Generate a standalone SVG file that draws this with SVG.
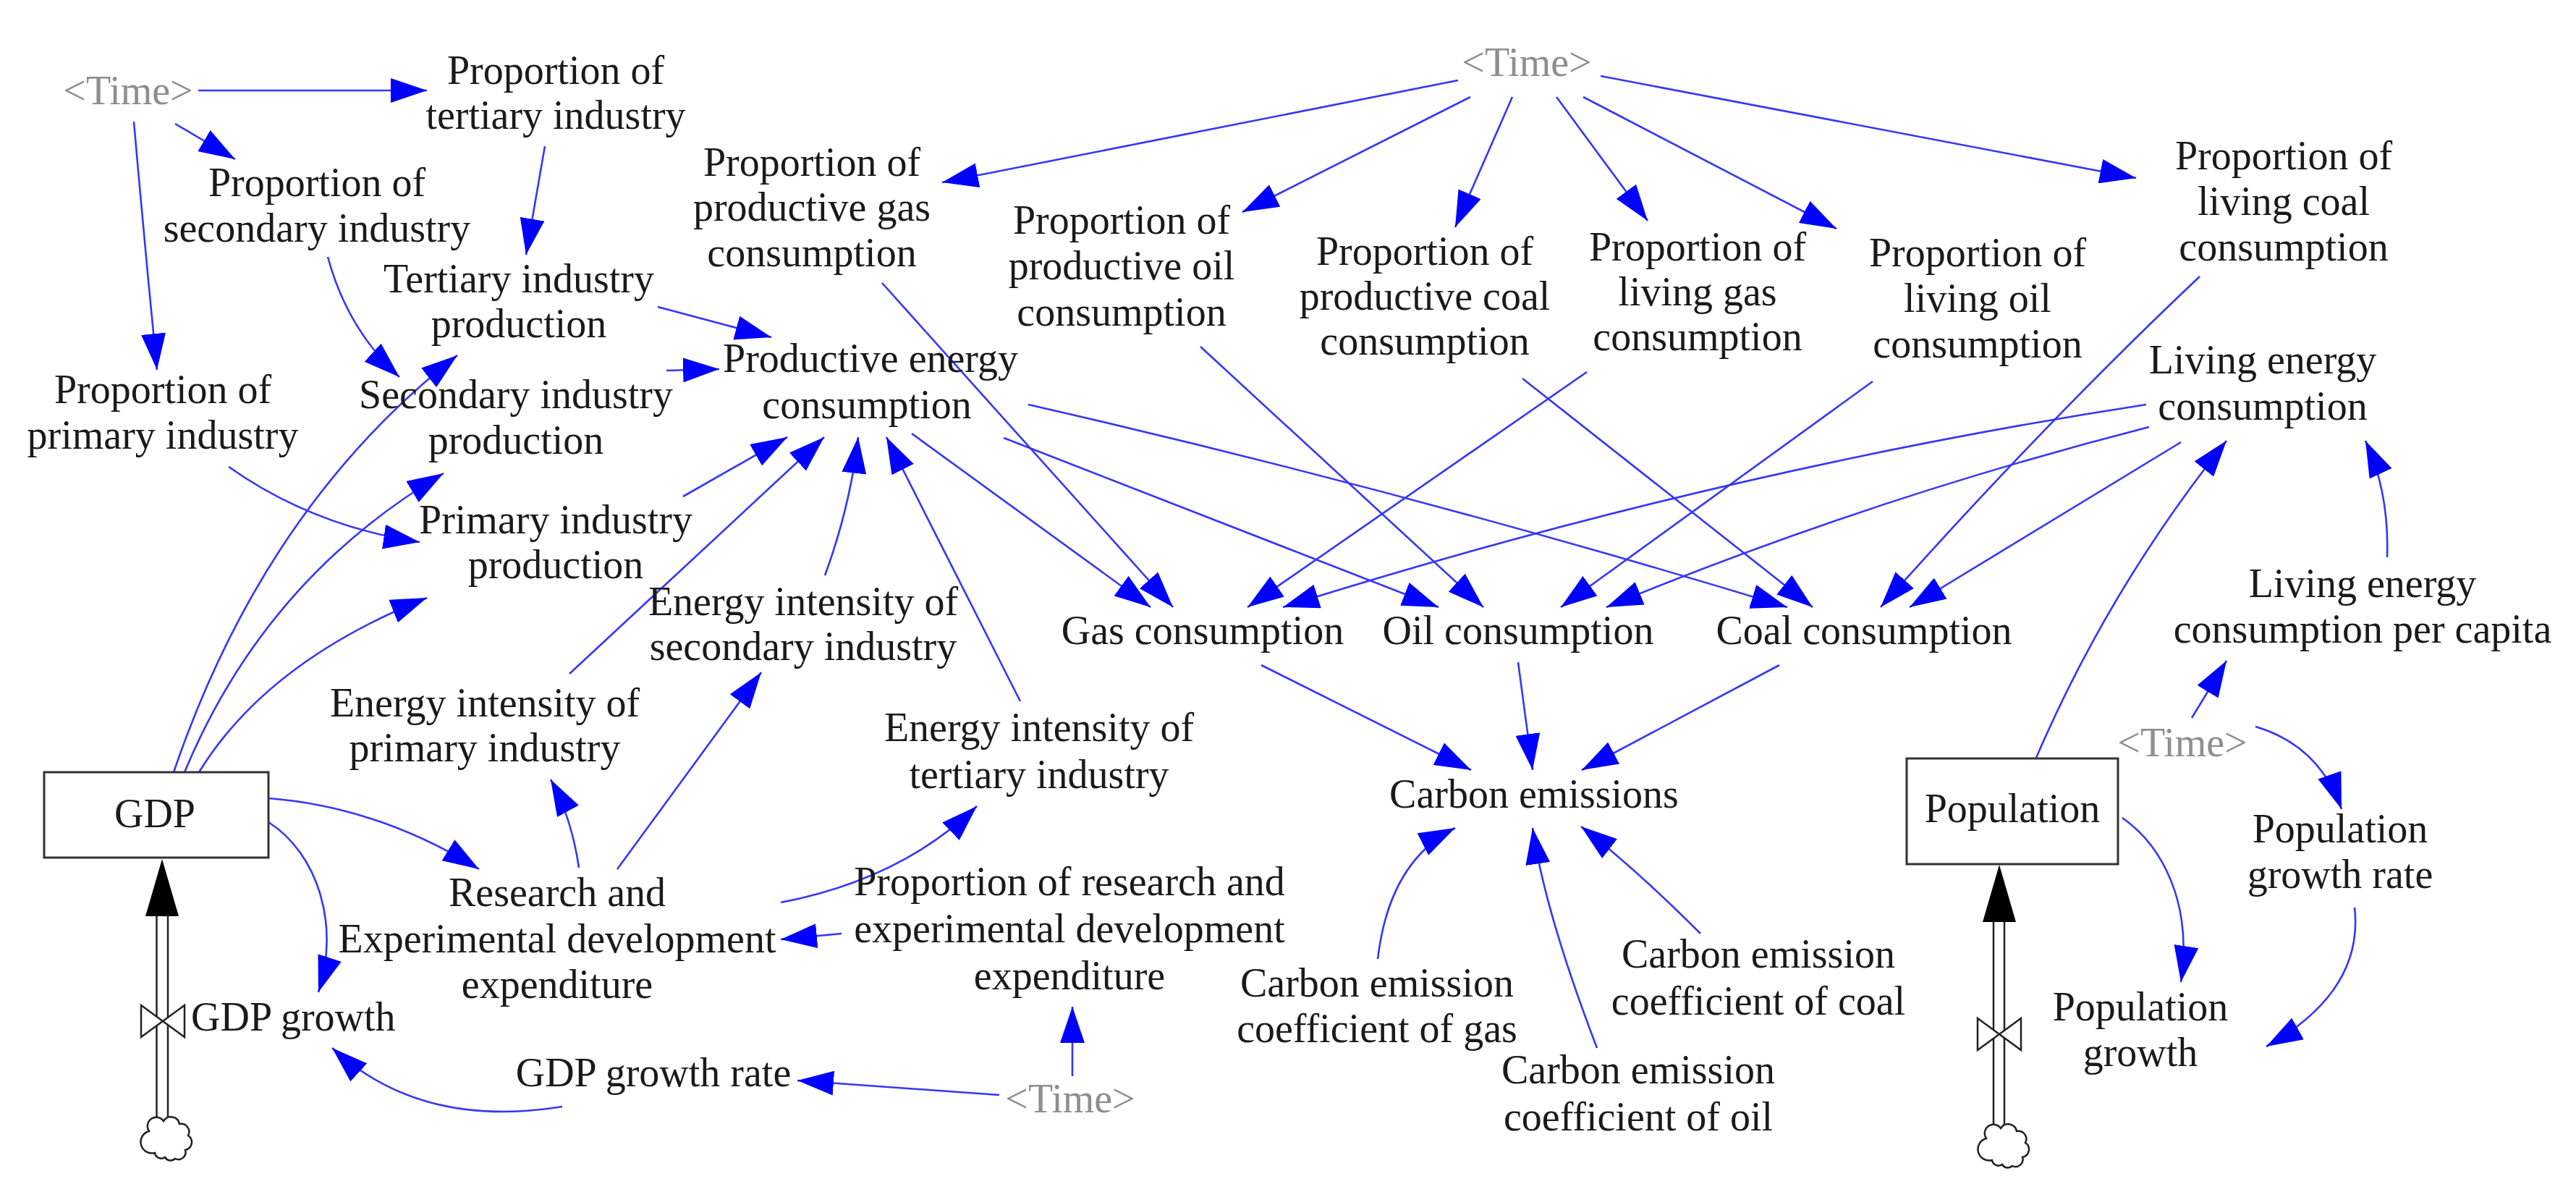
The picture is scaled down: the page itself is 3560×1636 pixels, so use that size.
<svg xmlns="http://www.w3.org/2000/svg" xmlns:xlink="http://www.w3.org/1999/xlink" width="3560" height="1636" viewBox="0 0 3560 1636">
<style>
.t{font-family:"Liberation Serif","Times New Roman",serif;font-size:56px;fill:#1a1a1a;text-anchor:middle}
.tl{text-anchor:start}
.time{fill:#8e8e8e}
.c{fill:none;stroke:#3535ff;stroke-width:2.6;marker-end:url(#ah)}
.box{fill:#ffffff;stroke:#333333;stroke-width:3}
.pipe{stroke:#222222;stroke-width:2.5;fill:none}
.valve{fill:#ffffff;stroke:#222222;stroke-width:2.5}
.cloud{fill:#ffffff;stroke:#222222;stroke-width:2.5}
</style>
<defs>
<marker id="ah" markerUnits="userSpaceOnUse" markerWidth="50" markerHeight="34" refX="50" refY="17" orient="auto">
<path d="M0,0 L50,17 L0,34 Z" fill="#0000ff"/>
</marker>
<path id="valveShape" d="M-30,-22 L0,0 L-30,22 Z M30,-22 L0,0 L30,22 Z"/>
<path id="cloudShape" d="M-25,-12 a12,12 0 0 1 20,-14 a12,12 0 0 1 22,4 a11,11 0 0 1 12,16 a11,11 0 0 1 -4,20 a10,10 0 0 1 -14,12 a9,9 0 0 1 -14,-2 a9,9 0 0 1 -14,-6 a11,11 0 0 1 -8,-30 z"/>
<path id="flowHead" d="M0,0 L23,79 L-23,79 Z"/>
</defs>
<rect width="3560" height="1636" fill="#ffffff"/>

<g id="connectors">
<path class="c" d="M274,125 L590,125"/>
<path class="c" d="M242,171 L325,220"/>
<path class="c" d="M185,168 Q200,340 217,511"/>
<path class="c" d="M753,202 L727,352"/>
<path class="c" d="M453,355 Q480,455 552,521"/>
<path class="c" d="M909,424 L1066,466"/>
<path class="c" d="M921,512 L994,510"/>
<path class="c" d="M316,645 Q432,727 580,749"/>
<path class="c" d="M240,1067 Q365,700 632,491"/>
<path class="c" d="M255,1067 Q366,800 613,654"/>
<path class="c" d="M275,1067 Q369,914 590,826"/>
<path class="c" d="M944,686 L1088,604"/>
<path class="c" d="M787,931 L1139,604"/>
<path class="c" d="M1140,795 Q1175,700 1186,604"/>
<path class="c" d="M1410,969 L1225,604"/>
<path class="c" d="M1260,599 L1590,839"/>
<path class="c" d="M1387,605 L1988,839"/>
<path class="c" d="M1421,559 Q1950,680 2470,839"/>
<path class="c" d="M1219,391 L1621,839"/>
<path class="c" d="M1659,479 L2050,839"/>
<path class="c" d="M2104,523 L2505,839"/>
<path class="c" d="M2193,514 L1724,839"/>
<path class="c" d="M2588,527 L2157,839"/>
<path class="c" d="M3040,382 Q2830,580 2599,839"/>
<path class="c" d="M2966,559 Q2370,651 1773,839"/>
<path class="c" d="M2970,590 Q2580,690 2220,839"/>
<path class="c" d="M3014,611 L2639,839"/>
<path class="c" d="M2015,111 L1302,252"/>
<path class="c" d="M2032,134 L1717,293"/>
<path class="c" d="M2090,134 L2011,314"/>
<path class="c" d="M2151,134 L2277,305"/>
<path class="c" d="M2188,134 L2538,316"/>
<path class="c" d="M2212,105 L2952,246"/>
<path class="c" d="M1743,919 L2033,1064"/>
<path class="c" d="M2098,915 L2118,1064"/>
<path class="c" d="M2459,919 L2186,1064"/>
<path class="c" d="M1904,1325 Q1920,1190 2011,1144"/>
<path class="c" d="M2207,1448 Q2135,1260 2118,1144"/>
<path class="c" d="M2350,1290 Q2260,1200 2185,1142"/>
<path class="c" d="M371,1103 Q523,1115 662,1201"/>
<path class="c" d="M371,1136 C440,1180 470,1280 440,1371"/>
<path class="c" d="M777,1529 Q582,1561 459,1448"/>
<path class="c" d="M1381,1513 L1102,1493"/>
<path class="c" d="M1482,1487 L1482,1391"/>
<path class="c" d="M1163,1290 L1079,1298"/>
<path class="c" d="M800,1199 Q790,1130 761,1077"/>
<path class="c" d="M853,1201 L1052,929"/>
<path class="c" d="M1079,1247 Q1245,1215 1350,1114"/>
<path class="c" d="M2814,1047 Q2915,812 3077,609"/>
<path class="c" d="M3299,770 Q3302,680 3269,609"/>
<path class="c" d="M3029,992 L3077,913"/>
<path class="c" d="M3117,1004 Q3205,1030 3236,1118"/>
<path class="c" d="M3254,1254 Q3267,1370 3132,1446"/>
<path class="c" d="M2933,1130 C2990,1170 3030,1250 3014,1357"/>
</g>

<g id="time1"><text class="t time" x="177" y="144">&lt;Time&gt;</text></g>
<g id="time2"><text class="t time" x="2110" y="105">&lt;Time&gt;</text></g>
<g id="time3"><text class="t time" x="1479" y="1537">&lt;Time&gt;</text></g>
<g id="time4"><text class="t time" x="3016" y="1045">&lt;Time&gt;</text></g>

<g id="prop-tertiary"><text class="t"><tspan x="768" y="116">Proportion of</tspan><tspan x="768" y="178">tertiary industry</tspan></text></g>
<g id="prop-secondary"><text class="t"><tspan x="438" y="271">Proportion of</tspan><tspan x="438" y="334">secondary industry</tspan></text></g>
<g id="prop-primary"><text class="t"><tspan x="225" y="557">Proportion of</tspan><tspan x="225" y="620">primary industry</tspan></text></g>
<g id="tertiary-production"><text class="t"><tspan x="717" y="404">Tertiary industry</tspan><tspan x="717" y="466">production</tspan></text></g>
<g id="secondary-production"><text class="t"><tspan x="713" y="564">Secondary industry</tspan><tspan x="713" y="627">production</tspan></text></g>
<g id="primary-production"><text class="t"><tspan x="768" y="737">Primary industry</tspan><tspan x="768" y="799">production</tspan></text></g>
<g id="productive-energy"><text class="t"><tspan x="1203" y="514">Productive energy</tspan><tspan x="1198" y="578">consumption</tspan></text></g>
<g id="prop-prod-gas"><text class="t"><tspan x="1122" y="243">Proportion of</tspan><tspan x="1122" y="305">productive gas</tspan><tspan x="1122" y="368">consumption</tspan></text></g>
<g id="prop-prod-oil"><text class="t"><tspan x="1550" y="323">Proportion of</tspan><tspan x="1550" y="386">productive oil</tspan><tspan x="1550" y="450">consumption</tspan></text></g>
<g id="prop-prod-coal"><text class="t"><tspan x="1969" y="366">Proportion of</tspan><tspan x="1969" y="428">productive coal</tspan><tspan x="1969" y="490">consumption</tspan></text></g>
<g id="prop-living-gas"><text class="t"><tspan x="2346" y="360">Proportion of</tspan><tspan x="2346" y="422">living gas</tspan><tspan x="2346" y="484">consumption</tspan></text></g>
<g id="prop-living-oil"><text class="t"><tspan x="2733" y="368">Proportion of</tspan><tspan x="2733" y="431">living oil</tspan><tspan x="2733" y="494">consumption</tspan></text></g>
<g id="prop-living-coal"><text class="t"><tspan x="3156" y="234">Proportion of</tspan><tspan x="3156" y="297">living coal</tspan><tspan x="3156" y="360">consumption</tspan></text></g>
<g id="living-energy"><text class="t"><tspan x="3127" y="516">Living energy</tspan><tspan x="3127" y="580">consumption</tspan></text></g>
<g id="living-energy-per-capita"><text class="t"><tspan x="3265" y="825">Living energy</tspan><tspan x="3265" y="888">consumption per capita</tspan></text></g>
<g id="gas-consumption"><text class="t" x="1662" y="890">Gas consumption</text></g>
<g id="oil-consumption"><text class="t" x="2098" y="890">Oil consumption</text></g>
<g id="coal-consumption"><text class="t" x="2576" y="890">Coal consumption</text></g>
<g id="ei-secondary"><text class="t"><tspan x="1110" y="850">Energy intensity of</tspan><tspan x="1110" y="912">secondary industry</tspan></text></g>
<g id="ei-primary"><text class="t"><tspan x="670" y="990">Energy intensity of</tspan><tspan x="670" y="1052">primary industry</tspan></text></g>
<g id="ei-tertiary"><text class="t"><tspan x="1436" y="1024">Energy intensity of</tspan><tspan x="1436" y="1089">tertiary industry</tspan></text></g>
<g id="carbon-emissions"><text class="t" x="2120" y="1116">Carbon emissions</text></g>
<g id="rd-expenditure"><text class="t"><tspan x="770" y="1252">Research and</tspan><tspan x="770" y="1316">Experimental development</tspan><tspan x="770" y="1379">expenditure</tspan></text></g>
<g id="prop-rd"><text class="t"><tspan x="1478" y="1237">Proportion of research and</tspan><tspan x="1478" y="1302">experimental development</tspan><tspan x="1478" y="1367">expenditure</tspan></text></g>
<g id="gdp-growth-rate"><text class="t" x="903" y="1501">GDP growth rate</text></g>
<g id="ce-gas"><text class="t"><tspan x="1903" y="1377">Carbon emission</tspan><tspan x="1903" y="1440">coefficient of gas</tspan></text></g>
<g id="ce-oil"><text class="t"><tspan x="2264" y="1497">Carbon emission</tspan><tspan x="2264" y="1562">coefficient of oil</tspan></text></g>
<g id="ce-coal"><text class="t"><tspan x="2430" y="1337">Carbon emission</tspan><tspan x="2430" y="1402">coefficient of coal</tspan></text></g>
<g id="pop-growth-rate"><text class="t"><tspan x="3234" y="1164">Population</tspan><tspan x="3234" y="1227">growth rate</tspan></text></g>

<g id="gdp">
<rect class="box" x="61" y="1067" width="310" height="118"/>
<text class="t" x="214" y="1143">GDP</text>
</g>
<g id="gdp-growth">
<line class="pipe" x1="216.5" y1="1262" x2="216.5" y2="1548"/>
<line class="pipe" x1="232" y1="1262" x2="232" y2="1548"/>
<use xlink:href="#flowHead" x="224" y="1187" fill="#000000"/>
<use xlink:href="#valveShape" x="225" y="1411" class="valve"/>
<use xlink:href="#cloudShape" x="231" y="1575" class="cloud"/>
<text class="t tl" x="264" y="1424">GDP growth</text>
</g>

<g id="population">
<rect class="box" x="2635" y="1048" width="292" height="146"/>
<text class="t" x="2781" y="1136">Population</text>
</g>
<g id="population-growth">
<line class="pipe" x1="2755" y1="1270" x2="2755" y2="1558"/>
<line class="pipe" x1="2770" y1="1270" x2="2770" y2="1558"/>
<use xlink:href="#flowHead" x="2763" y="1195" fill="#000000"/>
<use xlink:href="#valveShape" x="2763" y="1429" class="valve"/>
<use xlink:href="#cloudShape" x="2770" y="1585" class="cloud"/>
<text class="t"><tspan x="2958" y="1410">Population</tspan><tspan x="2958" y="1473">growth</tspan></text>
</g>
</svg>
